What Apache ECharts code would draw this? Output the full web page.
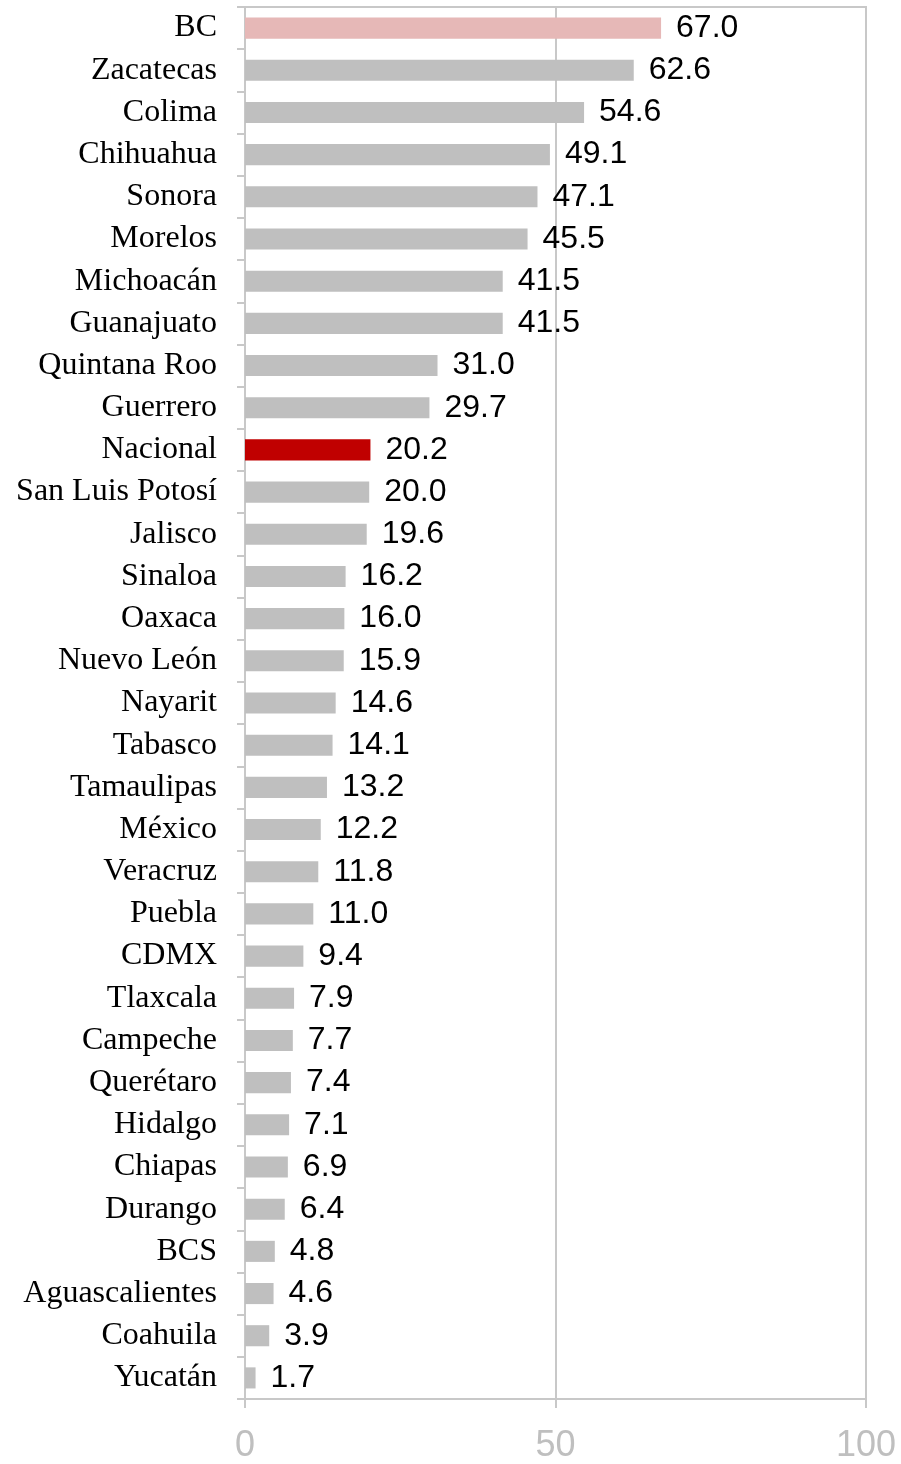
<!DOCTYPE html>
<html>
<head>
<meta charset="utf-8">
<script src="https://cdn.jsdelivr.net/npm/echarts@6/dist/echarts.min.js"></script>
<style>
  html, body { margin: 0; padding: 0; background: #fff; }
  #chart { width: 901px; height: 1464px; }
</style>
</head>
<body>
<div id="chart"></div>
<script>
// estados, de mayor a menor
const categories = ['BC', 'Zacatecas', 'Colima', 'Chihuahua', 'Sonora', 'Morelos', 'Michoacán',
  'Guanajuato', 'Quintana Roo', 'Guerrero', 'Nacional', 'San Luis Potosí', 'Jalisco', 'Sinaloa',
  'Oaxaca', 'Nuevo León', 'Nayarit', 'Tabasco', 'Tamaulipas', 'México', 'Veracruz', 'Puebla',
  'CDMX', 'Tlaxcala', 'Campeche', 'Querétaro', 'Hidalgo', 'Chiapas', 'Durango', 'BCS',
  'Aguascalientes', 'Coahuila', 'Yucatán']
const values = [67.0, 62.6, 54.6, 49.1, 47.1, 45.5, 41.5, 41.5, 31.0, 29.7, 20.2, 20.0, 19.6, 16.2,
  16.0, 15.9, 14.6, 14.1, 13.2, 12.2, 11.8, 11.0, 9.4, 7.9, 7.7, 7.4, 7.1, 6.9, 6.4, 4.8, 4.6, 3.9, 1.7]
const xTicks = [0, 50, 100]

const lineColor = '#c8c8c8'

function barColor (name) {
  if (name === 'BC') return '#e6b8b7'
  if (name === 'Nacional') return '#c00000'
  return '#bfbfbf'
}

let chart = echarts.init(document.getElementById('chart'))
chart.setOption({
  animation: false,
  grid: {
    left: 245,
    right: 35,
    top: 7,
    bottom: 63,
    show: true,
    borderColor: lineColor,
    borderWidth: 2
  },
  xAxis: {
    type: 'value',
    min: xTicks[0],
    max: xTicks[xTicks.length - 1],
    interval: 50,
    axisLine: { show: true, lineStyle: { color: lineColor, width: 2 } },
    axisTick: { show: true, length: 9, lineStyle: { color: lineColor, width: 2 } },
    splitLine: { show: true, lineStyle: { color: lineColor, width: 2 } },
    axisLabel: {
      margin: 29,
      color: '#bfbfbf',
      fontFamily: 'Liberation Sans, Arial, sans-serif',
      fontSize: 36
    }
  },
  yAxis: {
    type: 'category',
    inverse: true,
    data: categories,
    axisLine: { show: true, lineStyle: { color: lineColor, width: 2 } },
    axisTick: { show: true, length: 8, lineStyle: { color: lineColor, width: 2 } },
    axisLabel: {
      margin: 28,
      color: '#000',
      fontFamily: 'Liberation Serif, Times New Roman, serif',
      fontSize: 32
    }
  },
  series: [{
    type: 'bar',
    barWidth: '50%',
    data: values.map((v, i) => ({
      value: v,
      itemStyle: { color: barColor(categories[i]) }
    })),
    label: {
      show: true,
      position: 'right',
      distance: 15,
      color: '#000',
      fontFamily: 'Liberation Sans, Arial, sans-serif',
      fontSize: 32,
      formatter: p => p.value.toFixed(1)
    }
  }]
})
</script>
</body>
</html>
